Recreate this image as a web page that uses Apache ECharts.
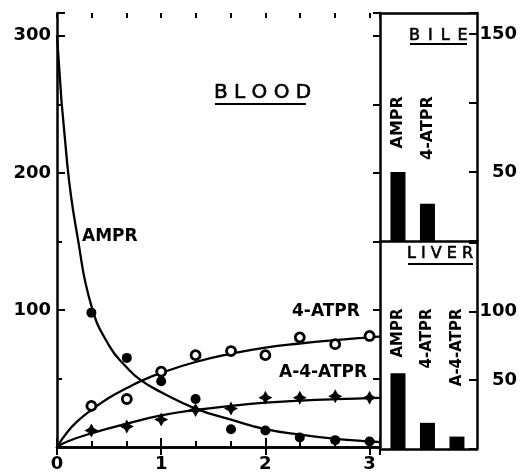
<!DOCTYPE html>
<html>
<head>
<meta charset="utf-8">
<script src="https://cdn.jsdelivr.net/npm/echarts@6/dist/echarts.min.js"></script>
<style>
html,body{margin:0;padding:0;background:#fff;}
#c{width:520px;height:473px;}
</style>
</head>
<body>
<div id="c"></div>
<script>
// ---- data ----
const sampleTimes = [0.33, 0.67, 1, 1.33, 1.67, 2, 2.33, 2.67, 3];
const amprPoints  = [98, 65, 48, 35, 13, 12, 7, 5, 4];
const atprPoints  = [30, 35, 55, 67, 70, 67, 80, 75, 81];
const a4atprPoints = [12, 15, 20, 27, 28, 36, 36, 37, 36];

const amprCurveT = [0, 0.1, 0.2, 0.33, 0.5, 0.67, 0.8, 1, 1.33, 1.67, 2, 2.33, 2.67, 3, 3.1];
const amprCurveV = [300, 205, 152, 103, 74, 58, 49, 40, 28, 20, 13, 9, 6, 4, 3.6];
const atprCurveT = [0, 0.1, 0.2, 0.33, 0.5, 0.67, 0.83, 1, 1.33, 1.67, 2, 2.33, 2.67, 3, 3.1];
const atprCurveV = [0, 11, 19, 27, 36, 43, 49, 54, 62, 68, 72.5, 75.5, 78, 80, 80.5];
const a4CurveT = [0, 0.1, 0.33, 0.67, 1, 1.33, 1.67, 2, 2.33, 2.67, 3, 3.1];
const a4CurveV = [0, 4, 10, 17, 23, 27, 30, 32.3, 33.8, 34.9, 35.6, 35.8];

const bileCategories = ['AMPR', '4-ATPR'];
const bileValues = [50, 27];
const liverCategories = ['AMPR', '4-ATPR', 'A-4-ATPR'];
const liverValues = [55, 19, 9];

const timeTickLabels = [0, 1, 2, 3];
const bloodTickLabels = [100, 200, 300];
const bileTickLabels = [50, 150];
const liverTickLabels = [50, 100];

// ---- chart ----
const zip = (a, b) => a.map((v, i) => [v, b[i]]);
const BOLD = 'bold 17px "DejaVu Sans"';
const lineStyle = {color: '#000', width: 2.5};
const tickStyle = {color: '#000', width: 2};
const axisFont = {color: '#000', fontFamily: 'DejaVu Sans', fontWeight: 'bold', fontSize: 18};

const chart = echarts.init(document.getElementById('c'), null, {renderer: 'canvas'});

const hiddenLabel = {show: false};
const starPath = 'path://M0,-10 L3.5,-3.5 L10,0 L3.5,3.5 L0,10 L-3.5,3.5 L-10,0 L-3.5,-3.5 Z';

const curve = (name, t, v) => ({
  name: name, type: 'line', xAxisIndex: 0, yAxisIndex: 0, data: zip(t, v),
  showSymbol: false, smooth: 0.5, lineStyle: {color: '#000', width: 2.3}, silent: true, z: 2
});

const barLabel = (size) => ({show: true, position: 'inside', rotate: 90, align: 'right', verticalAlign: 'middle',
  formatter: p => p.name, color: '#000', opacity: 1, fontFamily: 'DejaVu Sans', fontWeight: 'bold', fontSize: size});

const option = {
  animation: false,
  backgroundColor: '#fff',
  grid: [
    {left: 57, top: 13, width: 323, height: 436},
    {left: 380, top: 13, width: 97, height: 228},
    {left: 380, top: 241, width: 97, height: 208}
  ],
  xAxis: [
    {gridIndex: 0, type: 'value', position: 'bottom', min: 0, max: 3.1, interval: 1,
     axisLine: {show: true, lineStyle: lineStyle},
     axisTick: {show: true, inside: true, length: 9, lineStyle: tickStyle},
     splitLine: {show: false},
     axisLabel: Object.assign({show: true, margin: 8,
       formatter: v => timeTickLabels.indexOf(v) >= 0 ? String(v) : ''}, axisFont)},
    {gridIndex: 0, type: 'value', position: 'bottom', min: 0, max: 3.1, interval: 1/3,
     axisLine: {show: false}, splitLine: {show: false}, axisLabel: hiddenLabel,
     axisTick: {show: true, inside: true, length: 6, lineStyle: tickStyle}},
    {gridIndex: 0, type: 'value', position: 'top', min: 0, max: 3.1, interval: 1,
     axisLine: {show: true, lineStyle: lineStyle}, splitLine: {show: false}, axisLabel: hiddenLabel,
     axisTick: {show: true, inside: true, length: 8, lineStyle: tickStyle}},
    {gridIndex: 0, type: 'value', position: 'top', min: 0, max: 3.1, interval: 1/3,
     axisLine: {show: false}, splitLine: {show: false}, axisLabel: hiddenLabel,
     axisTick: {show: true, inside: true, length: 5, lineStyle: tickStyle}},
    {gridIndex: 1, type: 'value', position: 'bottom', min: -0.61, max: 2.68,
     axisLine: {show: true, onZero: false, lineStyle: lineStyle}, splitLine: {show: false},
     axisTick: {show: false}, axisLabel: hiddenLabel},
    {gridIndex: 1, type: 'value', position: 'top', min: -0.61, max: 2.68,
     axisLine: {show: true, onZero: false, lineStyle: lineStyle}, splitLine: {show: false},
     axisTick: {show: false}, axisLabel: hiddenLabel},
    {gridIndex: 2, type: 'value', position: 'bottom', min: -0.61, max: 2.68,
     axisLine: {show: true, onZero: false, lineStyle: lineStyle}, splitLine: {show: false},
     axisTick: {show: false}, axisLabel: hiddenLabel}
  ],
  yAxis: [
    {gridIndex: 0, type: 'value', position: 'left', min: 0, max: 316.6, interval: 100,
     axisLine: {show: true, onZero: false, lineStyle: lineStyle}, splitLine: {show: false},
     axisTick: {show: true, inside: true, length: 8, lineStyle: tickStyle},
     axisLabel: Object.assign({show: true, margin: 6,
       formatter: v => bloodTickLabels.indexOf(v) >= 0 ? String(v) : ''}, axisFont)},
    {gridIndex: 0, type: 'value', position: 'left', min: 0, max: 316.6, interval: 50,
     axisLine: {show: false}, splitLine: {show: false}, axisLabel: hiddenLabel,
     axisTick: {show: true, inside: true, length: 5, lineStyle: tickStyle}},
    {gridIndex: 0, type: 'value', position: 'right', min: 0, max: 316.6, interval: 50,
     axisLine: {show: true, onZero: false, lineStyle: lineStyle}, splitLine: {show: false}, axisLabel: hiddenLabel,
     axisTick: {show: true, inside: true, length: 7, lineStyle: tickStyle}},
    {gridIndex: 1, type: 'value', position: 'right', min: 0, max: 165.2, interval: 50,
     axisLine: {show: true, onZero: false, lineStyle: lineStyle}, splitLine: {show: false},
     axisTick: {show: true, inside: true, length: 8, lineStyle: tickStyle},
     axisLabel: Object.assign({show: true, margin: 40, align: 'right',
       formatter: v => bileTickLabels.indexOf(v) >= 0 ? String(v) : ''}, axisFont)},
    {gridIndex: 2, type: 'value', position: 'right', min: 0, max: 151, interval: 50,
     axisLine: {show: true, onZero: false, lineStyle: lineStyle}, splitLine: {show: false},
     axisTick: {show: true, inside: true, length: 8, lineStyle: tickStyle},
     axisLabel: Object.assign({show: true, margin: 40, align: 'right',
       formatter: v => liverTickLabels.indexOf(v) >= 0 ? String(v) : ''}, axisFont)}
  ],
  series: [
    curve('AMPR curve', amprCurveT, amprCurveV),
    curve('4-ATPR curve', atprCurveT, atprCurveV),
    curve('A-4-ATPR curve', a4CurveT, a4CurveV),
    {name: 'AMPR', type: 'scatter', xAxisIndex: 0, yAxisIndex: 0, data: zip(sampleTimes, amprPoints),
     symbol: 'circle', symbolSize: 10, itemStyle: {color: '#000', opacity: 1}, z: 3},
    {name: '4-ATPR', type: 'scatter', xAxisIndex: 0, yAxisIndex: 0, data: zip(sampleTimes, atprPoints),
     symbol: 'circle', symbolSize: 9, itemStyle: {color: '#fff', borderColor: '#000', borderWidth: 2.8, opacity: 1}, z: 3},
    {name: 'A-4-ATPR', type: 'scatter', xAxisIndex: 0, yAxisIndex: 0, data: zip(sampleTimes, a4atprPoints),
     symbol: starPath, symbolSize: 14, itemStyle: {color: '#000', opacity: 1}, z: 3},
    {name: 'Bile', type: 'bar', xAxisIndex: 4, yAxisIndex: 3, barWidth: 15,
     data: bileValues.map((v, i) => [i, v]), itemStyle: {color: '#000'}},
    {name: 'Liver', type: 'bar', xAxisIndex: 6, yAxisIndex: 4, barWidth: 15,
     data: liverValues.map((v, i) => [i, v]), itemStyle: {color: '#000'}},
    {name: 'Bile labels', type: 'scatter', xAxisIndex: 4, yAxisIndex: 3, symbolSize: 1,
     itemStyle: {color: 'rgba(0,0,0,0)', opacity: 1}, silent: true,
     data: bileCategories.map((c, i) => ({value: [i, 105], name: c})),
     label: barLabel(16)},
    {name: 'Liver labels', type: 'scatter', xAxisIndex: 6, yAxisIndex: 4, symbolSize: 1,
     itemStyle: {color: 'rgba(0,0,0,0)', opacity: 1}, silent: true,
     data: liverCategories.map((c, i) => ({value: [i, 102], name: c})),
     label: barLabel(15)}
  ],
  graphic: [
    {type: 'text', x: 82, y: 237, style: {text: 'AMPR', font: BOLD, fill: '#000', textVerticalAlign: 'middle', verticalAlign: 'middle'}},
    {type: 'text', x: 292, y: 312, style: {text: '4-ATPR', font: BOLD, fill: '#000', textVerticalAlign: 'middle', verticalAlign: 'middle'}},
    {type: 'text', x: 279, y: 373, style: {text: 'A-4-ATPR', font: BOLD, fill: '#000', textVerticalAlign: 'middle', verticalAlign: 'middle'}},
    {type: 'text', x: 214, y: 93, style: {text: 'B L O O D', font: '20px "DejaVu Sans"', fill: '#000', stroke: '#000', lineWidth: 0.6, textVerticalAlign: 'middle', verticalAlign: 'middle'}},
    {type: 'line', shape: {x1: 215, y1: 104, x2: 306, y2: 104}, style: {stroke: '#000', lineWidth: 2.2}},
    {type: 'text', x: 409, y: 36, style: {text: 'B\u2002I\u2002L\u2002E', font: '16px "DejaVu Sans"', fill: '#000', stroke: '#000', lineWidth: 0.6, textVerticalAlign: 'middle', verticalAlign: 'middle'}},
    {type: 'line', shape: {x1: 410, y1: 44, x2: 467, y2: 44}, style: {stroke: '#000', lineWidth: 2.2}},
    {type: 'text', x: 407, y: 254, style: {text: 'L I V E R', font: '16px "DejaVu Sans"', fill: '#000', stroke: '#000', lineWidth: 0.6, textVerticalAlign: 'middle', verticalAlign: 'middle'}},
    {type: 'line', shape: {x1: 408, y1: 264, x2: 473, y2: 264}, style: {stroke: '#000', lineWidth: 2.2}}
  ]
};
chart.setOption(option);
</script>
</body>
</html>
